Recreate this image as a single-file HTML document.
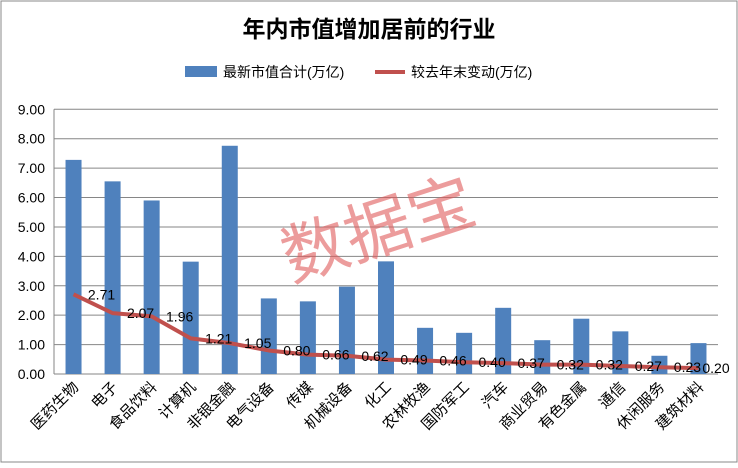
<!DOCTYPE html>
<html><head><meta charset="utf-8"><style>
body{margin:0;background:#fff;}
svg text{font-family:"Liberation Sans","Noto Sans CJK SC",sans-serif;}
</style></head><body>
<svg width="738" height="463" xmlns="http://www.w3.org/2000/svg">
<rect x="1" y="1" width="736" height="461" fill="#fff" stroke="#888"/>
<text x="369" y="37" text-anchor="middle" font-size="23" font-weight="bold">年内市值增加居前的行业</text>
<rect x="185" y="66" width="32" height="11" fill="#4f81bd"/>
<text x="223" y="77" font-size="14">最新市值合计(万亿)</text>
<line x1="375" y1="72" x2="405" y2="72" stroke="#c0504d" stroke-width="4"/>
<text x="411" y="77" font-size="14">较去年末变动(万亿)</text>
<g id="plot"></g>
<text x="380" y="252" text-anchor="middle" font-size="66" fill="#e05a5a" fill-opacity="0.6" transform="rotate(-18 380 235)">数据宝</text>
</svg>
<script>
const categories=["医药生物","电子","食品饮料","计算机","非银金融","电气设备","传媒","机械设备","化工","农林牧渔","国防军工","汽车","商业贸易","有色金属","通信","休闲服务","建筑材料"];
const marketCap=[7.28,6.55,5.9,3.82,7.76,2.57,2.47,2.97,3.83,1.57,1.4,2.25,1.15,1.88,1.45,0.62,1.05];
const change=[2.71,2.07,1.96,1.21,1.05,0.80,0.66,0.62,0.49,0.46,0.40,0.37,0.32,0.32,0.27,0.23,0.20];
const yTicks=[0,1,2,3,4,5,6,7,8,9];
const NS="http://www.w3.org/2000/svg";
const g=document.getElementById('plot');
const L=54,R=718,T=109.3,B=374,yMax=9;
const bw=(R-L)/categories.length;
const xC=i=>L+bw*(i+0.5);
const yS=v=>B-(v/yMax)*(B-T);
function mk(t,a,p){const e=document.createElementNS(NS,t);for(const k in a)e.setAttribute(k,a[k]);(p||g).appendChild(e);return e;}
yTicks.forEach(v=>{
 const l=mk('line',{x1:L,x2:R,y1:yS(v),y2:yS(v),stroke:'#868686','stroke-width':1});
 
 
 const t=mk('text',{x:L-9,y:yS(v)+5,'text-anchor':'end','font-size':14});
 t.textContent=v.toFixed(2);
 
 
});
const ax=mk('line',{x1:L,x2:L,y1:T,y2:B,stroke:'#868686'});


marketCap.forEach((v,i)=>{
 const r=mk('rect',{x:xC(i)-8,y:yS(v),width:16,height:B-yS(v),fill:'#4f81bd'});
 
 
});
const pts=change.map((v,i)=>xC(i)+','+yS(v)).join(' ');
const pl=mk('polyline',{points:pts,fill:'none',stroke:'#c0504d','stroke-width':4,'stroke-linejoin':'round'});


change.forEach((v,i)=>{
 const t=mk('text',{x:Math.min(xC(i)+28,716),y:yS(v)+5,'text-anchor':'middle','font-size':14});
 t.textContent=v.toFixed(2);
 
 
});
categories.forEach((c,i)=>{
 const x=xC(i)+6,y=B+14;
 const t=mk('text',{x:x,y:y,'text-anchor':'end','font-size':15,transform:`rotate(-45 ${x} ${y})`});
 t.textContent=c;
 
 
});
</script>
</body></html>
